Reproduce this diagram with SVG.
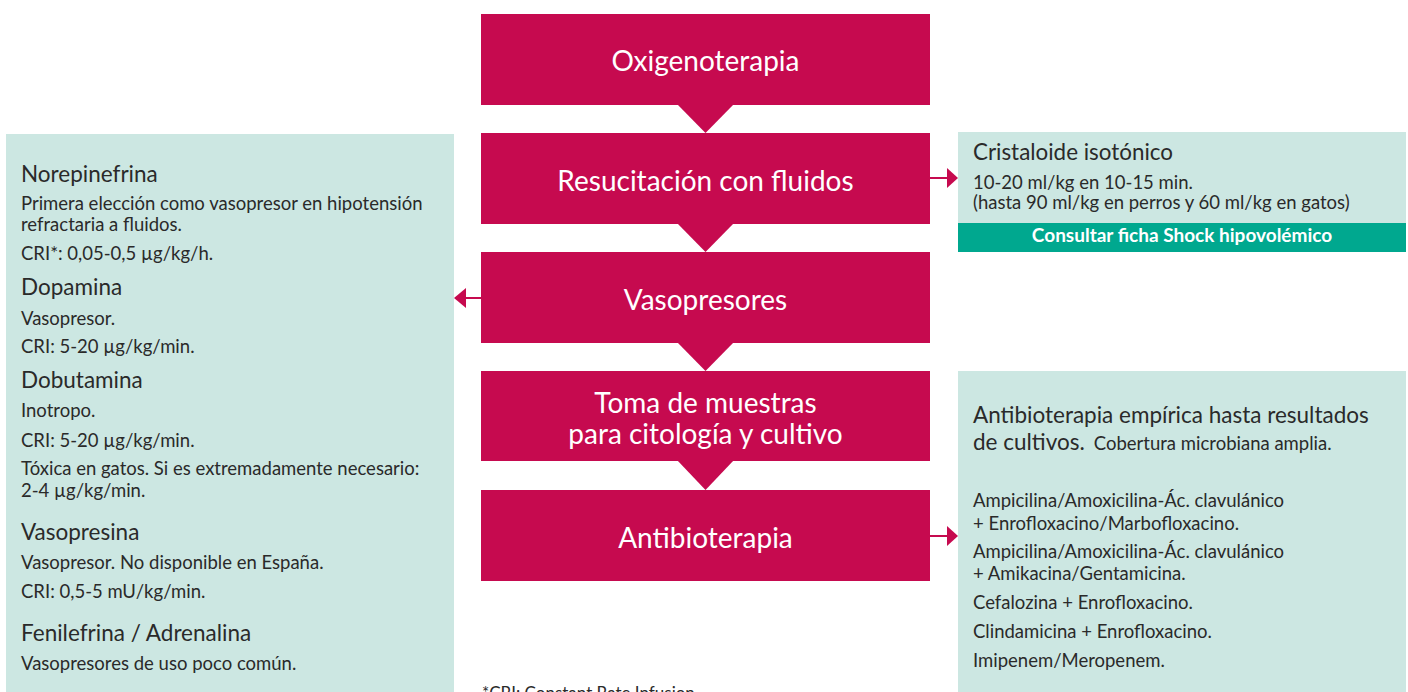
<svg xmlns="http://www.w3.org/2000/svg" width="1408" height="692" viewBox="0 0 1408 692">
<style>
.step{fill:#C60A4F}
.panel{fill:#CCE7E2}
.st{font-family:Lato,"Open Sans",sans-serif;fill:#fff;font-size:28px;text-anchor:middle}
.h{font-family:Lato,"Open Sans",sans-serif;fill:#2A2A2A;font-size:22.5px}
.b{font-family:Lato,"Open Sans",sans-serif;fill:#2A2A2A;font-size:18.5px}
.link{font-family:Lato,"Open Sans",sans-serif;fill:#fff;font-size:19px;font-weight:bold;text-anchor:middle}
.line{stroke:#C60A4F;stroke-width:2;fill:none}
.head{fill:#C60A4F}
</style>
<rect width="1408" height="692" fill="#fff"/>

<g id="panel-vasopresores">
<rect class="panel" x="6" y="134" width="448" height="560"/>
<text class="h" x="21" y="182">Norepinefrina</text>
<text class="b" x="21" y="210">Primera elección como vasopresor en hipotensión</text>
<text class="b" x="21" y="231">refractaria a fluidos.</text>
<text class="b" x="21" y="260">CRI*: 0,05-0,5 µg/kg/h.</text>
<text class="h" x="21" y="295">Dopamina</text>
<text class="b" x="21" y="325">Vasopresor.</text>
<text class="b" x="21" y="353">CRI: 5-20 µg/kg/min.</text>
<text class="h" x="21" y="388">Dobutamina</text>
<text class="b" x="21" y="417">Inotropo.</text>
<text class="b" x="21" y="447">CRI: 5-20 µg/kg/min.</text>
<text class="b" x="21" y="475">Tóxica en gatos. Si es extremadamente necesario:</text>
<text class="b" x="21" y="497">2-4 µg/kg/min.</text>
<text class="h" x="21" y="540">Vasopresina</text>
<text class="b" x="21" y="569">Vasopresor. No disponible en España.</text>
<text class="b" x="21" y="598">CRI: 0,5-5 mU/kg/min.</text>
<text class="h" x="21" y="641">Fenilefrina / Adrenalina</text>
<text class="b" x="21" y="670">Vasopresores de uso poco común.</text>
</g>

<g id="panel-cristaloide">
<rect class="panel" x="958" y="132" width="448" height="91"/>
<rect x="958" y="223" width="448" height="29" fill="#00A88F"/>
<text class="h" x="973" y="160" textLength="200" lengthAdjust="spacingAndGlyphs" style="font-size:24px">Cristaloide isotónico</text>
<text class="b" x="973" y="189">10-20 ml/kg en 10-15 min.</text>
<text class="b" x="973" y="209">(hasta 90 ml/kg en perros y 60 ml/kg en gatos)</text>
<text class="link" x="1182" y="242">Consultar ficha Shock hipovolémico</text>
</g>

<g id="panel-antibioticos">
<rect class="panel" x="958" y="371" width="448" height="323"/>
<text class="h" x="973" y="423">Antibioterapia empírica hasta resultados</text>
<text class="h" x="973" y="450">de cultivos.<tspan style="font-size:18.5px" dx="9">Cobertura microbiana amplia.</tspan></text>
<text class="b" x="973" y="507">Ampicilina/Amoxicilina-Ác. clavulánico</text>
<text class="b" x="973" y="530">+ Enrofloxacino/Marbofloxacino.</text>
<text class="b" x="973" y="558">Ampicilina/Amoxicilina-Ác. clavulánico</text>
<text class="b" x="973" y="580">+ Amikacina/Gentamicina.</text>
<text class="b" x="973" y="609">Cefalozina + Enrofloxacino.</text>
<text class="b" x="973" y="638">Clindamicina + Enrofloxacino.</text>
<text class="b" x="973" y="667">Imipenem/Meropenem.</text>
</g>

<g id="step-oxigenoterapia">
<rect class="step" x="481" y="14" width="449" height="91"/>
<text class="st" x="705.5" y="71">Oxigenoterapia</text>
</g>
<g id="step-fluidos">
<rect class="step" x="481" y="133" width="449" height="91"/>
<text class="st" x="705.5" y="191">Resucitación con fluidos</text>
</g>
<g id="step-vasopresores">
<rect class="step" x="481" y="252" width="449" height="91"/>
<text class="st" x="705.5" y="310">Vasopresores</text>
</g>
<g id="step-muestras">
<rect class="step" x="481" y="371" width="449" height="90"/>
<text class="st" x="705.5" y="413">Toma de muestras</text>
<text class="st" x="705.5" y="444">para citología y cultivo</text>
</g>
<g id="step-antibioterapia">
<rect class="step" x="481" y="490" width="449" height="91"/>
<text class="st" x="705.5" y="548">Antibioterapia</text>
</g>

<g id="connectors">
<polygon class="head" points="677,104 734,104 705.5,133"/>
<polygon class="head" points="677,223 734,223 705.5,252"/>
<polygon class="head" points="677,342 734,342 705.5,371"/>
<polygon class="head" points="677,460 734,460 705.5,490"/>
<line class="line" x1="930" y1="178" x2="948" y2="178"/>
<polygon class="head" points="947,168 958,178 947,188"/>
<line class="line" x1="481" y1="298" x2="464" y2="298"/>
<polygon class="head" points="466,288 454,298 466,308"/>
<line class="line" x1="930" y1="536" x2="948" y2="536"/>
<polygon class="head" points="947,526 958,536 947,546"/>
</g>

<text class="b" x="482" y="699" style="font-size:17px">*CRI: Constant Rate Infusion</text>
</svg>
